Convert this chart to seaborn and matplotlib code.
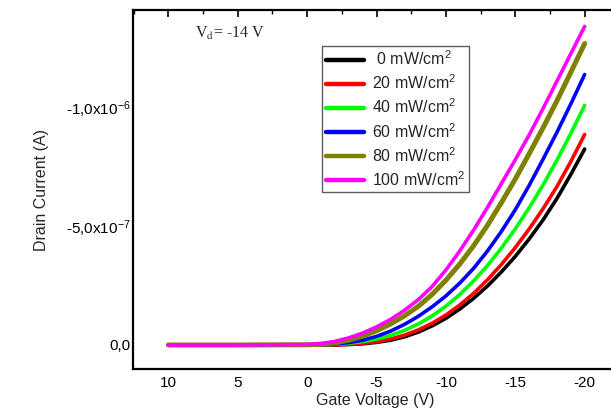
import numpy as np
import pandas as pd
import seaborn as sns
import matplotlib
matplotlib.use("Agg")
import matplotlib.pyplot as plt
from matplotlib.ticker import FixedLocator, FixedFormatter, MultipleLocator

# ---- data (gate voltage in V, drain current in units of 1e-7 A) ----
gate_voltage = [10, 5, 0, -1, -2, -3, -4, -5, -6, -7, -8, -9, -10,
                -11, -12, -13, -14, -15, -16, -17, -18, -19, -20]
i_0mw   = [0, 0, 0, 0, 0, -0.02, -0.05, -0.11, -0.20, -0.34, -0.54, -0.80, -1.12,
           -1.51, -1.96, -2.48, -3.07, -3.72, -4.45, -5.25, -6.15, -7.16, -8.23]
i_20mw  = [0, 0, 0, 0, -0.01, -0.03, -0.07, -0.14, -0.25, -0.41, -0.63, -0.91, -1.26,
           -1.68, -2.17, -2.74, -3.38, -4.09, -4.87, -5.72, -6.65, -7.70, -8.84]
i_40mw  = [0, 0, 0, -0.01, -0.03, -0.07, -0.14, -0.25, -0.40, -0.61, -0.88, -1.22, -1.63,
           -2.12, -2.69, -3.34, -4.07, -4.88, -5.76, -6.72, -7.76, -8.88, -10.06]
i_60mw  = [0, 0, 0, -0.01, -0.04, -0.10, -0.20, -0.36, -0.58, -0.86, -1.20, -1.60, -2.06,
           -2.60, -3.22, -3.95, -4.77, -5.68, -6.70, -7.80, -8.93, -10.12, -11.36]
i_80mw  = [0, 0, -0.01, -0.03, -0.09, -0.20, -0.37, -0.60, -0.88, -1.22, -1.62, -2.12, -2.72,
           -3.40, -4.17, -5.03, -5.98, -6.97, -8.03, -9.12, -10.25, -11.45, -12.66]
i_100mw = [0, 0, -0.02, -0.06, -0.15, -0.30, -0.50, -0.76, -1.07, -1.45, -1.90, -2.45, -3.15,
           -3.95, -4.83, -5.78, -6.78, -7.78, -8.82, -9.93, -11.08, -12.23, -13.38]
scale = 1e-7
series_labels = [" 0 mW/cm$^2$", "20 mW/cm$^2$", "40 mW/cm$^2$",
                 "60 mW/cm$^2$", "80 mW/cm$^2$", "100 mW/cm$^2$"]
series_values = [i_0mw, i_20mw, i_40mw, i_60mw, i_80mw, i_100mw]
colors = ["#000000", "#ff0000", "#00ff00", "#0000ff", "#808000", "#ff00ff"]
x_ticks = [10, 5, 0, -5, -10, -15, -20]
y_ticks = [0.0, -5e-7, -1e-6]
y_tick_labels = ["0,0", "-5,0x10$^{-7}$", "-1,0x10$^{-6}$"]

rows = []
for lab, vals in zip(series_labels, series_values):
    for v, i in zip(gate_voltage, vals):
        rows.append({"Vg": v, "Id": i * scale, "series": lab})
df = pd.DataFrame(rows)

sns.set_style("white")
plt.rcParams["font.family"] = ["Liberation Sans", "DejaVu Sans"]
plt.rcParams["mathtext.fontset"] = "custom"
plt.rcParams["mathtext.rm"] = "Liberation Sans"
plt.rcParams["mathtext.it"] = "Liberation Sans:italic"
plt.rcParams["axes.unicode_minus"] = False

fig = plt.figure(figsize=(6.11, 4.12), dpi=100)
ax = fig.add_axes([133 / 611, 1 - 369 / 412, 1 - 133 / 611 + 0.01, (369 - 10) / 412])

widths = [2.6, 2.6, 2.6, 2.6, 3.6, 2.6]
for lab, col, lw in zip(series_labels, colors, widths):
    sub = df[df["series"] == lab]
    sns.lineplot(data=sub, x="Vg", y="Id", color=col, lw=lw, ax=ax,
                 label=lab, sort=False, estimator=None)

ax.set_xlim(12.55, -22.34)
ax.set_ylim(1.008e-7, -1.407e-6)

ax.xaxis.set_major_locator(FixedLocator(x_ticks))
ax.xaxis.set_minor_locator(MultipleLocator(2.5))
ax.yaxis.set_major_locator(FixedLocator(y_ticks))
ax.yaxis.set_major_formatter(FixedFormatter(y_tick_labels))
ax.yaxis.set_minor_locator(FixedLocator([-2.5e-7, -7.5e-7, -1.25e-6]))
ax.set_xticklabels([str(t) for t in x_ticks])

ax.tick_params(which="both", direction="in", top=True, right=False,
               colors="black", labelsize=11)
ax.tick_params(which="major", length=5, width=1.2)
ax.tick_params(which="minor", length=3, width=1.0)
ax.tick_params(axis="x", pad=5)
ax.tick_params(axis="y", pad=2)

for s in ["left", "top", "bottom"]:
    ax.spines[s].set_visible(True)
    ax.spines[s].set_color("black")
    ax.spines[s].set_linewidth(1.6)
ax.spines["right"].set_visible(False)

ax.set_xlabel("Gate Voltage (V)", fontsize=11.5, labelpad=2)
ax.set_ylabel("Drain Current (A)", fontsize=11.5, labelpad=12)

leg = ax.legend(loc="upper left", bbox_to_anchor=(0.391, 0.9), fontsize=11.5,
                frameon=True, fancybox=False, edgecolor="#333333",
                handlelength=2.4, handletextpad=0.5, labelspacing=0.34,
                borderpad=0.22, borderaxespad=0)
leg.get_frame().set_linewidth(1.0)
for h in leg.get_lines():
    h.set_linewidth(3.2)

fig.text(195 / 611, 1 - 38 / 412, r"V$_{\mathrm{d}}$= -14 V", fontsize=11.5,
         family=["Liberation Serif"], math_fontfamily="stix", va="baseline")

fig.savefig("out.png", dpi=100)
